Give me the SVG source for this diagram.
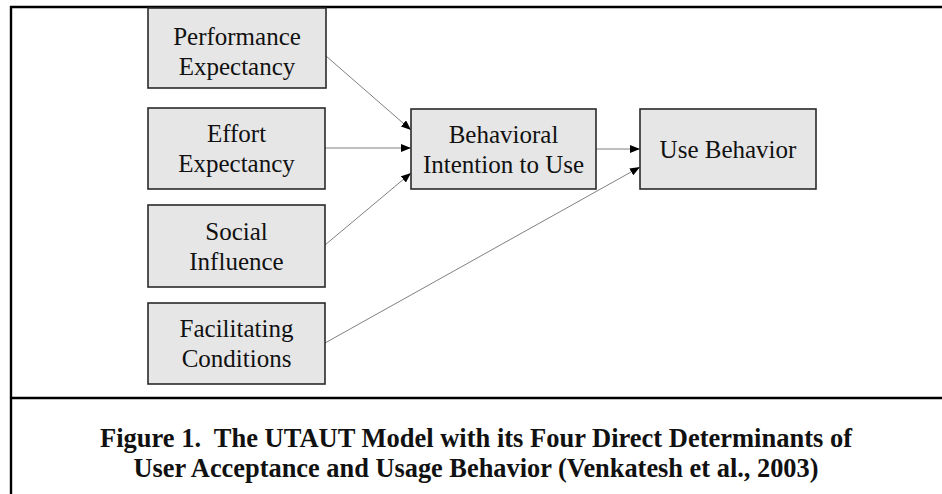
<svg xmlns="http://www.w3.org/2000/svg" width="942" height="494" viewBox="0 0 942 494">
  <style>
    .box { fill: #e6e6e6; stroke: #2a2a2a; stroke-width: 1.6; }
    .lbl { font-family: "Liberation Serif", "Times New Roman", serif; font-size: 25px; fill: #111; text-anchor: middle; }
    .edge { stroke: #808080; stroke-width: 1; fill: none; marker-end: url(#arrow); }
    .frame { stroke: #000; stroke-width: 2.4; fill: none; }
    .cap { font-family: "Liberation Serif", "Times New Roman", serif; font-weight: bold; font-size: 27px; fill: #111; text-anchor: middle; white-space: pre; }
  </style>
  <defs>
    <marker id="arrow" viewBox="0 0 10 8" refX="10" refY="4" markerWidth="10" markerHeight="8" markerUnits="userSpaceOnUse" orient="auto">
      <path d="M0,0 L10,4 L0,8 Z" fill="#000"/>
    </marker>
  </defs>

  <rect width="942" height="494" fill="#fff"/>

  <!-- figure frame -->
  <g id="frame">
    <line class="frame" x1="10" y1="7" x2="942" y2="7"/>
    <line class="frame" x1="11" y1="6" x2="11" y2="494"/>
    <line class="frame" x1="10" y1="398" x2="942" y2="398"/>
  </g>

  <!-- connectors -->
  <g id="connectors">
    <line class="edge" x1="326" y1="56" x2="411" y2="130"/>
    <line class="edge" x1="325" y1="148" x2="411" y2="148"/>
    <line class="edge" x1="325" y1="245" x2="411" y2="173"/>
    <line class="edge" x1="596" y1="149" x2="640" y2="149"/>
    <line class="edge" x1="325" y1="343" x2="640" y2="167"/>
  </g>

  <g id="performance-expectancy">
    <rect class="box" x="148" y="8" width="178" height="80"/>
    <text class="lbl" x="237" y="45">Performance</text>
    <text class="lbl" x="237" y="75">Expectancy</text>
  </g>

  <g id="effort-expectancy">
    <rect class="box" x="148" y="108" width="177" height="81"/>
    <text class="lbl" x="236.5" y="142">Effort</text>
    <text class="lbl" x="236.5" y="172">Expectancy</text>
  </g>

  <g id="social-influence">
    <rect class="box" x="148" y="205" width="177" height="82"/>
    <text class="lbl" x="236.5" y="240">Social</text>
    <text class="lbl" x="236.5" y="270">Influence</text>
  </g>

  <g id="facilitating-conditions">
    <rect class="box" x="148" y="303" width="177" height="81"/>
    <text class="lbl" x="236.5" y="337">Facilitating</text>
    <text class="lbl" x="236.5" y="367">Conditions</text>
  </g>

  <g id="behavioral-intention">
    <rect class="box" x="411" y="109" width="185" height="80"/>
    <text class="lbl" x="503.5" y="143">Behavioral</text>
    <text class="lbl" x="503.5" y="173">Intention to Use</text>
  </g>

  <g id="use-behavior">
    <rect class="box" x="640" y="109" width="176" height="80"/>
    <text class="lbl" x="728" y="158">Use Behavior</text>
  </g>

  <!-- caption -->
  <g id="caption">
    <text class="cap" x="476" y="447" textLength="752" lengthAdjust="spacingAndGlyphs" xml:space="preserve">Figure 1.  The UTAUT Model with its Four Direct Determinants of</text>
    <text class="cap" x="476" y="477" textLength="685" lengthAdjust="spacingAndGlyphs">User Acceptance and Usage Behavior (Venkatesh et al., 2003)</text>
  </g>
</svg>
